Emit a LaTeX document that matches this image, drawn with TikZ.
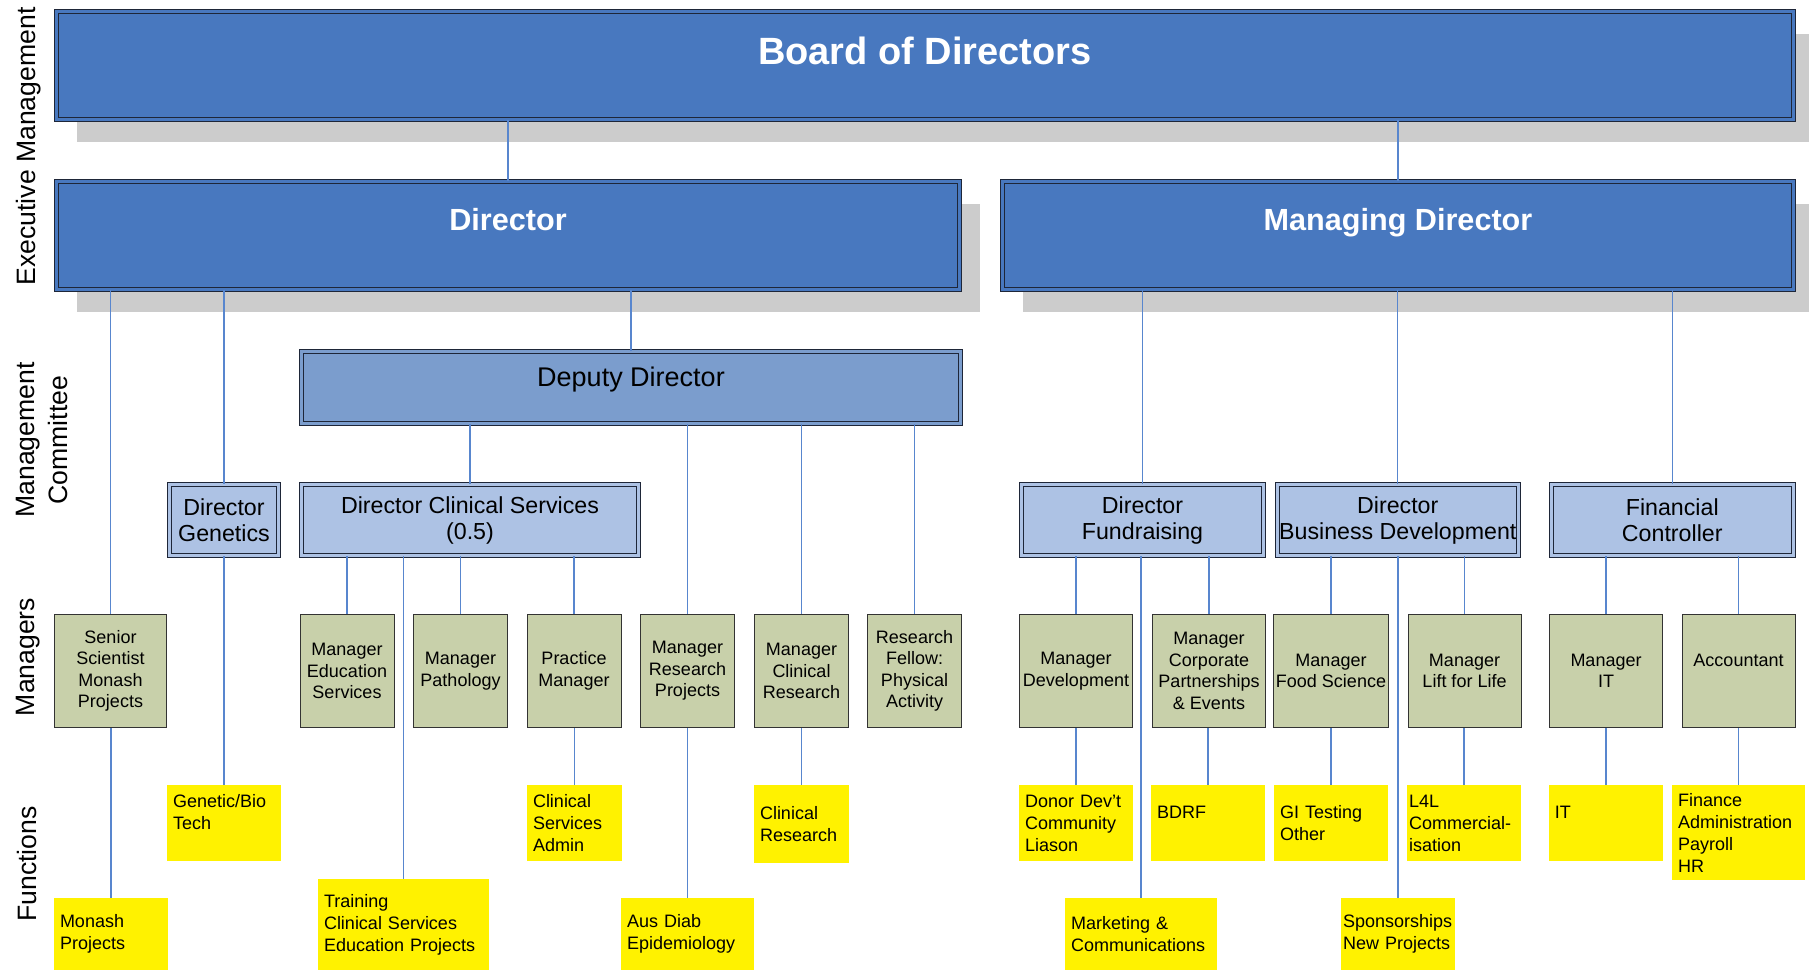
\documentclass[tikz,border=0pt]{standalone}
\usepackage{fontspec}
\setmainfont{Liberation Sans}
\usepackage{tikz}
\usetikzlibrary{shadows}
\definecolor{blu}{RGB}{72,120,191}
\definecolor{blumedio}{RGB}{123,157,205}
\definecolor{azzurro}{RGB}{173,194,228}
\definecolor{oliva}{RGB}{200,208,170}
\definecolor{bordo}{RGB}{30,38,56}
\definecolor{filo}{RGB}{88,134,206}
\tikzstyle{doppio} = [draw=bordo, line width=0.5pt, double distance=1.5pt]
\tikzstyle{vertice} = [rectangle, doppio, double=blu, fill=blu, text=white, minimum height=54pt,
font=\bfseries\fontsize{15.3}{18}\selectfont, drop shadow={shadow xshift=10pt, shadow yshift=-11pt, fill=black!20, opacity=1}]
\tikzstyle{vice} = [rectangle, doppio, double=blumedio, fill=blumedio, minimum height=36pt, font=\fontsize{13.5}{16}\selectfont]
\tikzstyle{comitato} = [rectangle, doppio, double=azzurro, fill=azzurro, minimum height=35.5pt, inner sep=0pt,
align=center, font=\fontsize{11.6}{13}\selectfont]
\tikzstyle{responsabile} = [rectangle, fill=oliva, draw=black!80, line width=0.5pt, minimum width=47pt, minimum height=56.5pt,
inner sep=1pt, align=center, font=\fontsize{9}{10.75}\selectfont]
\tikzstyle{largo} = [minimum width=56.5pt]
\tikzstyle{funzione} = [rectangle, fill=yellow, inner xsep=3pt, inner ysep=0pt, minimum height=38pt, align=left,
font=\fontsize{9}{11}\selectfont]
\tikzstyle{etichetta} = [rotate=90, anchor=north, inner sep=0pt, align=center, font=\fontsize{13.3}{16.5}\selectfont]
\tikzstyle{linea} = [draw=filo, line width=0.6pt]

\begin{document}
\begin{tikzpicture}[x=0.5pt, y=-0.5pt]
	\useasboundingbox (0,0) rectangle (1809,970);
	\clip (0,0) rectangle (1809,970);
	\node (l1) at (16,146.5) [etichetta] {Executive Management};
	\node (l2) at (16,440) [etichetta] {Management\\Committee};
	\node (l3) at (16,657) [etichetta] {Managers};
	\node (l4) at (17,864) [etichetta] {Functions};

	\node (bd) at (925,65.5) [vertice, minimum width=868.5pt, text depth=15pt, font=\bfseries\fontsize{19}{22}\selectfont] {Board of Directors};
	\node (dir) at (508,235.5) [vertice, minimum width=451.5pt, text depth=16.5pt] {Director};
	\node (md) at (1398,235.5) [vertice, minimum width=395.5pt, text depth=16.5pt] {Managing Director};
	\node (dd) at (631,387.5) [vice, minimum width=329.5pt, text depth=10.5pt] {Deputy Director};

	\node (dg) at (224,520) [comitato, minimum width=54.5pt] {Director\\Genetics};
	\node (dcs) at (470,520) [comitato, minimum width=168.5pt] {Director Clinical Services\\(0.5)};
	\node (df) at (1142.5,520) [comitato, minimum width=121pt] {Director\\Fundraising};
	\node (dbd) at (1397.75,520) [comitato, minimum width=120.75pt] {Director\\Business Development};
	\node (fc) at (1672.25,520) [comitato, minimum width=121.25pt] {Financial\\Controller};

	\node (ss) at (110.5,671) [responsabile, minimum width=56pt] {Senior\\Scientist\\Monash\\Projects};
	\node (edu) at (347,671) [responsabile] {Manager\\Education\\Services};
	\node (pat) at (460.5,671) [responsabile] {Manager\\Pathology};
	\node (pm) at (574,671) [responsabile] {Practice\\Manager};
	\node (mrp) at (687.5,671) [responsabile] {Manager\\Research\\Projects};
	\node (mcr) at (801.5,671) [responsabile] {Manager\\Clinical\\Research};
	\node (rf) at (914.5,671) [responsabile] {Research\\Fellow:\\Physical\\Activity};
	\node (mdev) at (1076,671) [responsabile, largo] {Manager\\Development};
	\node (mcp) at (1209,671) [responsabile, largo] {Manager\\Corporate\\Partnerships\\\& Events};
	\node (mfs) at (1331,671) [responsabile, largo] {Manager\\Food Science};
	\node (mlfl) at (1464.5,671) [responsabile, largo] {Manager\\Lift for Life};
	\node (mit) at (1606,671) [responsabile, largo] {Manager\\IT};
	\node (acc) at (1738.5,671) [responsabile, largo] {Accountant\\\mbox{}};

	\node (gbt) at (224,823) [funzione, text width=51pt] {Genetic/Bio\\Tech\\\mbox{}};
	\node (csa) at (574.5,823) [funzione, text width=41.5pt] {Clinical\\Services\\Admin};
	\node (cr) at (801.5,824) [funzione, text width=41.5pt, minimum height=39pt] {Clinical\\Research};
	\node (ddv) at (1076,823) [funzione, text width=51pt] {Donor Dev’t\\Community\\Liason};
	\node (bdrf) at (1208,823) [funzione, text width=51pt] {BDRF\\\mbox{}};
	\node (git) at (1331,823) [funzione, text width=51pt] {GI Testing\\Other};
	\node (l4l) at (1464,823) [funzione, text width=55pt, inner xsep=1pt] {L4L\\Commercial-\\isation};
	\node (itf) at (1606,823) [funzione, text width=51.25pt] {IT\\\mbox{}};
	\node (fin) at (1738.5,832.5) [funzione, text width=60.5pt, minimum height=47.5pt] {Finance\\Administration\\Payroll\\HR};
	\node (mon) at (111,934) [funzione, text width=51pt, minimum height=36pt] {Monash\\Projects};
	\node (trn) at (403.5,924.5) [funzione, text width=79.5pt, minimum height=45.5pt] {Training\\Clinical Services\\Education Projects};
	\node (aus) at (687.5,934) [funzione, text width=60.5pt, minimum height=36pt] {Aus Diab\\Epidemiology};
	\node (mkt) at (1141,934) [funzione, text width=70pt, minimum height=36pt] {Marketing \&\\Communications};
	\node (spo) at (1398,934) [funzione, text width=55pt, inner xsep=1pt, minimum height=36pt] {Sponsorships\\New Projects};

	\draw [linea] (dir.north) -- (dir.north |- bd.south);
	\draw [linea] (md.north) -- (md.north |- bd.south);
	\draw [linea] (ss.north) -- (ss.north |- dir.south);
	\draw [linea] (dg.north) -- (dg.north |- dir.south);
	\draw [linea] (dd.north) -- (dd.north |- dir.south);
	\draw [linea] (dcs.north) -- (dcs.north |- dd.south);
	\draw [linea] (mrp.north) -- (mrp.north |- dd.south);
	\draw [linea] (mcr.north) -- (mcr.north |- dd.south);
	\draw [linea] (rf.north) -- (rf.north |- dd.south);
	\draw [linea] (edu.north) -- (edu.north |- dcs.south);
	\draw [linea] (pat.north) -- (pat.north |- dcs.south);
	\draw [linea] (pm.north) -- (pm.north |- dcs.south);
	\draw [linea] (trn.north) -- (trn.north |- dcs.south);
	\draw [linea] (df.north) -- (df.north |- md.south);
	\draw [linea] (dbd.north) -- (dbd.north |- md.south);
	\draw [linea] (fc.north) -- (fc.north |- md.south);
	\draw [linea] (mdev.north) -- (mdev.north |- df.south);
	\draw [linea] (mcp.north) -- (mcp.north |- df.south);
	\draw [linea] (mkt.north) -- (mkt.north |- df.south);
	\draw [linea] (mfs.north) -- (mfs.north |- dbd.south);
	\draw [linea] (mlfl.north) -- (mlfl.north |- dbd.south);
	\draw [linea] (spo.north) -- (spo.north |- dbd.south);
	\draw [linea] (mit.north) -- (mit.north |- fc.south);
	\draw [linea] (acc.north) -- (acc.north |- fc.south);
	\draw [linea] (mon.north) -- (mon.north |- ss.south);
	\draw [linea] (gbt.north) -- (gbt.north |- dg.south);
	\draw [linea] (csa.north) -- (csa.north |- pm.south);
	\draw [linea] (aus.north) -- (aus.north |- mrp.south);
	\draw [linea] (cr.north) -- (cr.north |- mcr.south);
	\draw [linea] (ddv.north) -- (ddv.north |- mdev.south);
	\draw [linea] (bdrf.north) -- (bdrf.north |- mcp.south);
	\draw [linea] (git.north) -- (git.north |- mfs.south);
	\draw [linea] (l4l.north) -- (l4l.north |- mlfl.south);
	\draw [linea] (itf.north) -- (itf.north |- mit.south);
	\draw [linea] (fin.north) -- (fin.north |- acc.south);
\end{tikzpicture}
\end{document}
